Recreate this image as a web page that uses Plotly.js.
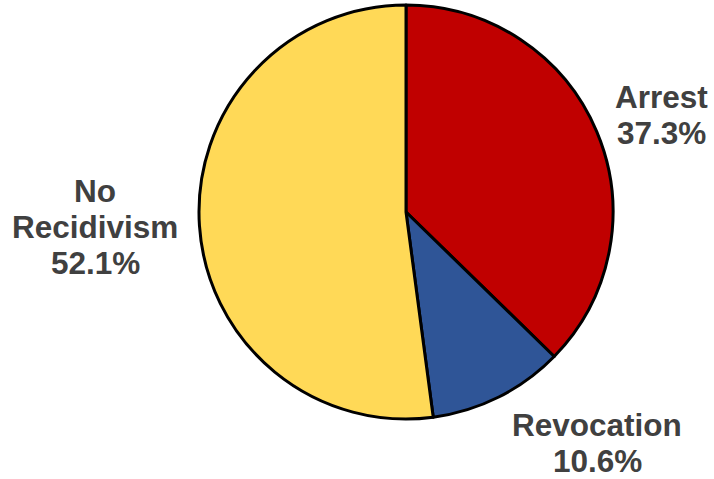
<!DOCTYPE html>
<html>
<head>
<meta charset="utf-8">
<script src="https://cdn.plot.ly/plotly-3.0.1.min.js"></script>
<style>html,body{margin:0;padding:0;background:#fff;}#chart{width:714px;height:479px;}</style>
</head>
<body>
<div id="chart"></div>
<script>
const labels = ["Arrest", "Revocation", "No Recidivism"];
const values = [37.3, 10.6, 52.1];
const colors = ["#C00000", "#2F5597", "#FFD957"];

// label block anchors: [x centre, y of first line] in pixels of the 714x479 frame
const labelPos = [[661, 97], [597, 425], [95, 191]];
const lineStep = 36;

const W = 714, H = 479;
const annotations = [];
labels.forEach((l, i) => {
  const lines = l.split(" ").concat([values[i].toFixed(1) + "%"]);
  lines.forEach((t, k) => {
    annotations.push({
      text: "<b>" + t + "</b>",
      x: labelPos[i][0] / W,
      y: 1 - (labelPos[i][1] + k * lineStep) / H,
      xref: "paper", yref: "paper",
      xanchor: "center", yanchor: "middle",
      showarrow: false,
      align: "center",
      borderpad: 0,
      font: {family: "Liberation Sans, Arial, sans-serif", size: 31.5, color: "#404040"}
    });
  });
});

const trace = {
  type: "pie",
  labels: labels,
  values: values,
  sort: false,
  direction: "clockwise",
  rotation: 0,
  textinfo: "none",
  hoverinfo: "label+percent",
  marker: {colors: colors, line: {color: "#000000", width: 3}},
  domain: {x: [199 / W, 613 / W], y: [1 - 419 / H, 1 - 5 / H]}
};

Plotly.newPlot("chart", [trace], {
  width: W, height: H,
  margin: {l: 0, r: 0, t: 0, b: 0},
  showlegend: false,
  paper_bgcolor: "#ffffff",
  annotations: annotations
}, {displayModeBar: false, staticPlot: true});
</script>
</body>
</html>
